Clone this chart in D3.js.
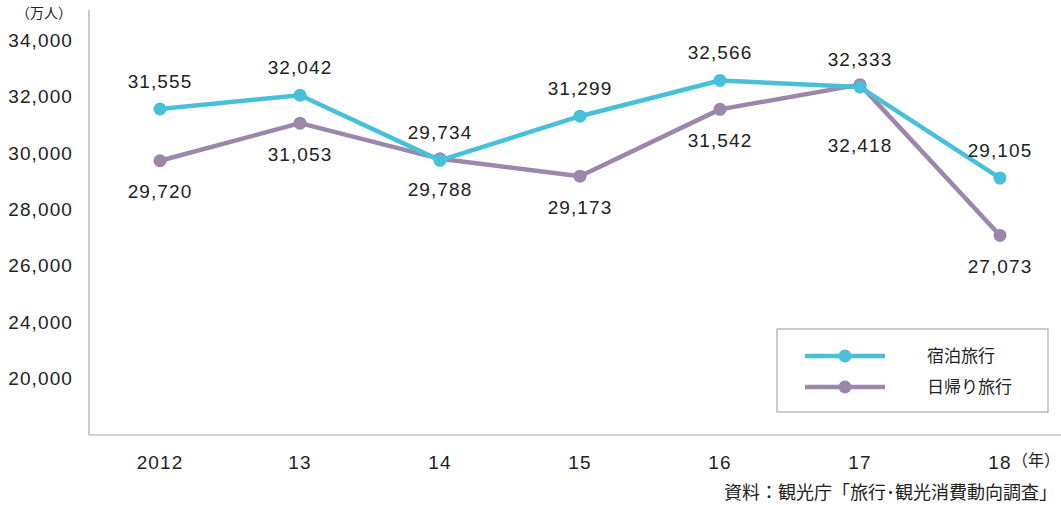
<!DOCTYPE html>
<html>
<head>
<meta charset="utf-8">
<script src="https://cdn.jsdelivr.net/npm/d3@7"></script>
<style>
  body { margin: 0; background: #fff; }
  text { font-family: "Liberation Sans", "Noto Sans CJK JP", sans-serif; fill: #222; }
  .num { font-size: 19px; letter-spacing: 1.1px; }
  .cjk { font-family: "Noto Sans CJK JP", sans-serif; }
</style>
</head>
<body>
<svg id="chart"></svg>
<script>
const years = ['2012', '13', '14', '15', '16', '17', '18'];
const stayTrips = [31555, 32042, 29734, 31299, 32566, 32333, 29105];
const dayTrips = [29720, 31053, 29788, 29173, 31542, 32418, 27073];
const seriesNames = ['宿泊旅行', '日帰り旅行'];
// the lowest label sits where a broken axis would read 22,000
const tickValues = [34000, 32000, 30000, 28000, 26000, 24000, 22000];
const tickLabels = ['34,000', '32,000', '30,000', '28,000', '26,000', '24,000', '20,000'];

const W = 1061, H = 505;
const colors = ['#48c0da', '#9c86ab'];

const svg = d3.select('#chart').attr('width', W).attr('height', H);

const x = d3.scalePoint().domain(years).range([160, 1000]);
const y = d3.scaleLinear().domain([20000, 34000]).range([435, 40]);

// axes
svg.append('line')
    .attr('x1', 89).attr('x2', 89).attr('y1', 10).attr('y2', 435)
    .attr('stroke', '#aaa').attr('stroke-width', 1.2);
svg.append('line')
    .attr('x1', 89).attr('x2', W).attr('y1', 435).attr('y2', 435)
    .attr('stroke', '#aaa').attr('stroke-width', 1.2);

svg.append('g')
    .selectAll('text')
    .data(tickValues)
  .enter().append('text')
    .attr('class', 'num')
    .attr('x', 73)
    .attr('y', d => y(d))
    .attr('dy', '0.35em')
    .attr('text-anchor', 'end')
    .text((d, i) => tickLabels[i]);

svg.append('g')
    .selectAll('text')
    .data(years)
  .enter().append('text')
    .attr('class', 'num')
    .attr('x', d => x(d))
    .attr('y', 462)
    .attr('dy', '0.35em')
    .attr('text-anchor', 'middle')
    .text(d => d);

svg.append('text').attr('class', 'cjk')
    .attr('x', 72).attr('y', 13).attr('dy', '0.35em')
    .attr('text-anchor', 'end').attr('font-size', 14)
    .text('（万人）');
svg.append('text').attr('class', 'cjk')
    .attr('x', 1060).attr('y', 460).attr('dy', '0.35em')
    .attr('text-anchor', 'end').attr('font-size', 16)
    .text('（年）');
svg.append('text').attr('class', 'cjk')
    .attr('x', 1057).attr('y', 493).attr('dy', '0.35em')
    .attr('text-anchor', 'end').attr('font-size', 18)
    .text('資料：観光庁「旅行･観光消費動向調査」');

// lines
const line = d3.line().x((d, i) => x(years[i])).y(d => y(d));
const series = [stayTrips, dayTrips];

series.slice().reverse().forEach((s, ri) => {
  const i = series.length - 1 - ri;
  svg.append('path')
      .datum(s)
      .attr('d', line)
      .attr('fill', 'none')
      .attr('stroke', colors[i])
      .attr('stroke-width', 4.5)
      .attr('stroke-linejoin', 'round');
  svg.append('g')
      .selectAll('circle')
      .data(s)
    .enter().append('circle')
      .attr('cx', (d, j) => x(years[j]))
      .attr('cy', d => y(d))
      .attr('r', 6.5)
      .attr('fill', colors[i]);
});

// value labels: stays above, day trips below
const offsets = [-28, 31];
series.forEach((s, i) => {
  svg.append('g')
      .selectAll('text')
      .data(s)
    .enter().append('text')
      .attr('class', 'num')
      .attr('x', (d, j) => x(years[j]))
      .attr('y', (d, j) => {
        // where both series meet the lower label drops further
        const gap = Math.abs(y(stayTrips[j]) - y(dayTrips[j]));
        const extra = (i === 1 && gap < 5 && y(d) < 100) ? 30 : 0;
        return y(d) + offsets[i] + extra;
      })
      .attr('dy', '0.35em')
      .attr('text-anchor', 'middle')
      .text(d => d3.format(',')(d));
});

// legend
const legend = svg.append('g');
legend.append('rect')
    .attr('x', 777).attr('y', 329).attr('width', 271).attr('height', 83)
    .attr('fill', '#fff').attr('stroke', '#aaa').attr('stroke-width', 1.2);
seriesNames.forEach((name, i) => {
  const ly = 356 + i * 31;
  legend.append('line')
      .attr('x1', 805).attr('x2', 885).attr('y1', ly).attr('y2', ly)
      .attr('stroke', colors[i]).attr('stroke-width', 4.5);
  legend.append('circle')
      .attr('cx', 845).attr('cy', ly).attr('r', 6.5).attr('fill', colors[i]);
  legend.append('text').attr('class', 'cjk')
      .attr('x', 927).attr('y', ly).attr('dy', '0.35em')
      .attr('font-size', 17)
      .text(name);
});
</script>
</body>
</html>
